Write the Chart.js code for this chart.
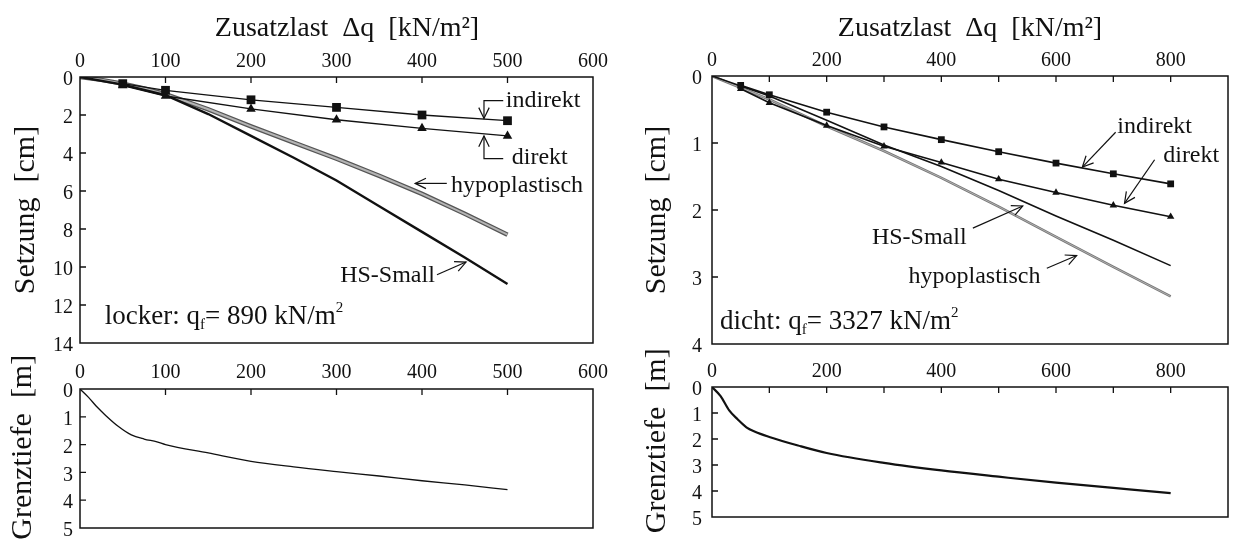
<!DOCTYPE html>
<html lang="de">
<head>
  <meta charset="UTF-8">
  <script src="https://cdn.jsdelivr.net/npm/chart.js"></script>
  <title>Setzung und Grenztiefe</title>
  <style>
    body { margin: 0; background: #fff; width: 1236px; height: 547px; overflow: hidden; position: relative; }
    canvas { position: absolute; }
  </style>
</head>
<body>
  <canvas id="tiefeLocker" width="610" height="200" style="left:0;top:347px"></canvas>
  <canvas id="tiefeDicht" width="626" height="200" style="left:610px;top:347px"></canvas>
  <canvas id="setzLocker" width="610" height="370" style="left:0;top:0"></canvas>
  <canvas id="setzDicht" width="626" height="370" style="left:610px;top:0"></canvas>

  <script>
    // --- locker: Messpunkte (Zusatzlast in kN/m², Setzung in cm)
    const lastLocker = [50, 100, 200, 300, 400, 500];
    const indirektLocker = [0.35, 0.7, 1.2, 1.6, 2.0, 2.3];
    const direktLocker = [0.45, 1.0, 1.68, 2.25, 2.7, 3.1];

    const hypoLastLocker = [0, 25, 50, 75, 100, 150, 200, 250, 300, 350, 400, 450, 500];
    const hypoLocker = [0, 0.15, 0.35, 0.6, 0.9, 1.7, 2.6, 3.45, 4.3, 5.2, 6.15, 7.2, 8.3];

    const hsLastLocker = [0, 50, 100, 150, 200, 250, 300, 350, 400, 450, 500];
    const hsLocker = [0, 0.4, 0.95, 1.95, 3.1, 4.25, 5.45, 6.8, 8.15, 9.5, 10.9];

    // Grenztiefe locker (m)
    const tiefeLastLocker = [0, 10, 20, 30, 45, 60, 75, 90, 100, 150, 200, 250, 300, 350, 400, 450, 500];
    const tiefeLocker = [0, 0.3, 0.65, 0.95, 1.35, 1.65, 1.8, 1.9, 2.0, 2.3, 2.6, 2.8, 2.97, 3.13, 3.3, 3.45, 3.62];

    // --- dicht
    const lastDicht = [50, 100, 200, 300, 400, 500, 600, 700, 800];
    const indirektDicht = [0.14, 0.28, 0.54, 0.76, 0.95, 1.13, 1.30, 1.46, 1.61];
    const direktDicht = [0.19, 0.40, 0.74, 1.05, 1.29, 1.54, 1.74, 1.93, 2.10];

    const kurveLastDicht = [0, 100, 200, 300, 400, 500, 600, 700, 800];
    const hsDicht = [0, 0.3, 0.66, 1.03, 1.35, 1.71, 2.09, 2.45, 2.83];
    const hypoDicht = [0, 0.35, 0.75, 1.12, 1.52, 1.95, 2.4, 2.85, 3.29];

    const tiefeLastDicht = [0, 15, 30, 45, 60, 75, 100, 150, 200, 300, 400, 500, 600, 700, 800];
    const tiefeDicht = [0, 0.35, 0.9, 1.25, 1.55, 1.72, 1.92, 2.25, 2.54, 2.92, 3.21, 3.45, 3.68, 3.88, 4.08];

    // Beschriftungen mit Pfeilen (Datenkoordinaten)
    const notizenLocker = [
      { text: 'indirekt', x: 498, y: 1.24, align: 'left', pfeil: [[495, 1.24], [472.5, 1.24], [472.5, 2.18]] },
      { text: 'direkt', x: 505, y: 4.25, align: 'left', pfeil: [[495, 4.3], [472.5, 4.3], [472.5, 3.1]] },
      { text: 'hypoplastisch', x: 434, y: 5.7, align: 'left', pfeil: [[429, 5.6], [392, 5.6]] },
      { text: 'HS-Small', x: 415, y: 10.47, align: 'right', pfeil: [[417.5, 10.41], [451.5, 9.74]] },
      { runs: [['locker: q', ''], ['f', 'sub'], ['= 890 kN/m', ''], ['2', 'sup']], x: 29, y: 12.65, align: 'left' }
    ];
    const notizenDicht = [
      { text: 'indirekt', x: 707, y: 0.76, align: 'left', pfeil: [[704, 0.84], [646, 1.36]] },
      { text: 'direkt', x: 787, y: 1.19, align: 'left', pfeil: [[772, 1.25], [719.5, 1.9]] },
      { text: 'HS-Small', x: 444, y: 2.42, align: 'right', pfeil: [[455, 2.27], [542, 1.94]] },
      { text: 'hypoplastisch', x: 573, y: 2.99, align: 'right', pfeil: [[584, 2.87], [636, 2.68]] },
      { runs: [['dicht: q', ''], ['f', 'sub'], ['= 3327 kN/m', ''], ['2', 'sup']], x: 14, y: 3.67, align: 'left' }
    ];

    Chart.defaults.font.family = '"Liberation Serif", "Times New Roman", serif';
    Chart.defaults.color = '#111';
    Chart.defaults.animation = false;

    const pts = (xs, ys) => xs.map((x, i) => ({ x: x, y: ys[i] }));
    const nb = '\u00a0\u00a0\u00a0'; // schiebt Achsentitel etwas aus der Mitte, wie im Original

    // Rahmen + nach innen zeigende Teilstriche
    const rahmen = {
      id: 'rahmen',
      afterDraw(chart) {
        const { ctx, chartArea: a, scales } = chart;
        ctx.save();
        ctx.strokeStyle = '#111';
        ctx.lineWidth = 1.5;
        ctx.strokeRect(a.left, a.top, a.right - a.left, a.bottom - a.top);
        ctx.lineWidth = 1.3;
        ctx.beginPath();
        scales.x.ticks.forEach(t => {
          const px = scales.x.getPixelForValue(t.value);
          if (px <= a.left + 1 || px >= a.right - 1) return;
          ctx.moveTo(px, a.top);
          ctx.lineTo(px, a.top + 6);
        });
        scales.y.ticks.forEach(t => {
          const py = scales.y.getPixelForValue(t.value);
          if (py <= a.top + 1 || py >= a.bottom - 1) return;
          ctx.moveTo(a.left, py);
          ctx.lineTo(a.left + 6, py);
        });
        ctx.stroke();
        ctx.restore();
      }
    };

    const notizen = {
      id: 'notizen',
      afterDraw(chart, args, opts) {
        if (!opts.items) return;
        const { ctx, scales } = chart;
        const fx = v => scales.x.getPixelForValue(v);
        const fy = v => scales.y.getPixelForValue(v);
        const fam = Chart.defaults.font.family;
        ctx.save();
        ctx.fillStyle = '#111';
        ctx.strokeStyle = '#111';
        ctx.lineWidth = 1.2;
        opts.items.forEach(n => {
          const px = fx(n.x), py = fy(n.y);
          ctx.textBaseline = 'middle';
          if (n.runs) {
            let cx = px;
            ctx.textAlign = 'left';
            n.runs.forEach(([s, art]) => {
              const size = art ? 15 : opts.gross;
              const dy = art === 'sub' ? 8 : art === 'sup' ? -9 : 0;
              ctx.font = size + 'px ' + fam;
              ctx.fillText(s, cx, py + dy);
              cx += ctx.measureText(s).width;
            });
          } else {
            ctx.font = opts.size + 'px ' + fam;
            ctx.textAlign = n.align;
            ctx.fillText(n.text, px, py);
          }
          if (n.pfeil) {
            const p = n.pfeil.map(([x, y]) => [fx(x), fy(y)]);
            ctx.beginPath();
            ctx.moveTo(p[0][0], p[0][1]);
            p.slice(1).forEach(q => ctx.lineTo(q[0], q[1]));
            ctx.stroke();
            const [x1, y1] = p[p.length - 2];
            const [x2, y2] = p[p.length - 1];
            const w = Math.atan2(y2 - y1, x2 - x1);
            ctx.beginPath();
            ctx.moveTo(x2 - 12 * Math.cos(w - 0.45), y2 - 12 * Math.sin(w - 0.45));
            ctx.lineTo(x2, y2);
            ctx.lineTo(x2 - 12 * Math.cos(w + 0.45), y2 - 12 * Math.sin(w + 0.45));
            ctx.stroke();
          }
        });
        ctx.restore();
      }
    };

    function diagramm(id, p) {
      return new Chart(document.getElementById(id), {
        type: 'line',
        data: { datasets: p.datasets },
        plugins: [rahmen, notizen],
        options: {
          responsive: false,
          layout: { padding: { left: 0, top: 0, right: p.rechts, bottom: p.unten } },
          plugins: {
            legend: { display: false },
            tooltip: { enabled: false },
            notizen: { items: p.notizen, size: 24, gross: 27 }
          },
          elements: { line: { tension: 0 } },
          scales: {
            x: {
              type: 'linear',
              position: 'top',
              min: 0, max: p.xMax,
              grid: { display: false, drawTicks: false },
              border: { display: false },
              ticks: {
                stepSize: 100, autoSkip: false, maxRotation: 0, padding: p.xPad,
                font: { size: 20 },
                callback: v => (v % p.xLabel === 0 ? String(v) : '')
              },
              title: {
                display: !!p.xTitel, text: p.xTitel || '',
                font: { size: 28 }, padding: { top: 12, bottom: 0 }
              },
              afterFit: s => { s.height = p.xHoehe; s.paddingLeft = 0; s.paddingRight = 0; }
            },
            y: {
              type: 'linear',
              reverse: true,
              min: 0, max: p.yMax,
              grid: { display: false, drawTicks: false },
              border: { display: false },
              ticks: { stepSize: p.yStep, autoSkip: false, padding: p.yPad, labelOffset: 3, font: { size: 20 } },
              title: {
                display: true, text: p.yTitel,
                font: { size: 30 }, padding: { top: p.yTitelPad, bottom: 0 }
              },
              afterFit: s => { s.width = p.yBreite; s.paddingTop = 0; s.paddingBottom = 0; }
            }
          }
        }
      });
    }

    const schwarz = '#111';
    const linie = (xs, ys, extra) => Object.assign({
      data: pts(xs, ys), borderColor: schwarz, borderWidth: 1.3, pointRadius: 0, fill: false
    }, extra);

    diagramm('setzLocker', {
      xMax: 600, xLabel: 100, yMax: 14, yStep: 2,
      xTitel: nb + 'Zusatzlast  Δq  [kN/m²]', yTitel: 'Setzung  [cm]',
      yBreite: 80, xHoehe: 77, rechts: 17, unten: 27, xPad: 3, yPad: 7, yTitelPad: 8,
      notizen: notizenLocker,
      datasets: [
        linie(lastLocker, indirektLocker, { pointStyle: 'rect', pointRadius: 6.2, pointBackgroundColor: schwarz, pointBorderWidth: 0 }),
        linie(lastLocker, direktLocker, { pointStyle: 'triangle', pointRadius: 5.5, pointBackgroundColor: schwarz, pointBorderWidth: 0 }),
        linie(hsLastLocker, hsLocker, { borderWidth: 2.4 }),
        linie(hypoLastLocker, hypoLocker, { borderColor: '#b4b4b4', borderWidth: 2 }),
        linie(hypoLastLocker, hypoLocker, { borderColor: '#555', borderWidth: 4.5 })
      ]
    });

    diagramm('tiefeLocker', {
      xMax: 600, xLabel: 100, yMax: 5, yStep: 1,
      yTitel: nb + 'Grenztiefe  [m]',
      yBreite: 80, xHoehe: 42, rechts: 17, unten: 19, xPad: 4, yPad: 7, yTitelPad: 5,
      datasets: [
        linie(tiefeLastLocker, tiefeLocker, { cubicInterpolationMode: 'monotone' })
      ]
    });

    diagramm('setzDicht', {
      xMax: 900, xLabel: 200, yMax: 4, yStep: 1,
      xTitel: 'Zusatzlast  Δq  [kN/m²]', yTitel: 'Setzung  [cm]',
      yBreite: 102, xHoehe: 76, rechts: 8, unten: 26, xPad: 3, yPad: 10, yTitelPad: 29,
      notizen: notizenDicht,
      datasets: [
        linie(lastDicht, indirektDicht, { pointStyle: 'rect', pointRadius: 4.8, pointBackgroundColor: schwarz, pointBorderWidth: 0, borderWidth: 1.6 }),
        linie(lastDicht, direktDicht, { pointStyle: 'triangle', pointRadius: 4.3, pointBackgroundColor: schwarz, pointBorderWidth: 0, borderWidth: 1.6 }),
        linie(kurveLastDicht, hsDicht, { borderWidth: 1.6 }),
        linie(kurveLastDicht, hypoDicht, { borderColor: '#b0b0b0', borderWidth: 1 }),
        linie(kurveLastDicht, hypoDicht, { borderColor: '#777', borderWidth: 2.6 })
      ]
    });

    diagramm('tiefeDicht', {
      xMax: 900, xLabel: 200, yMax: 5, yStep: 1,
      yTitel: nb + 'Grenztiefe  [m]',
      yBreite: 102, xHoehe: 40, rechts: 8, unten: 30, xPad: 3, yPad: 10, yTitelPad: 29,
      datasets: [
        linie(tiefeLastDicht, tiefeDicht, { cubicInterpolationMode: 'monotone', borderWidth: 2.2 })
      ]
    });
  </script>
</body>
</html>
